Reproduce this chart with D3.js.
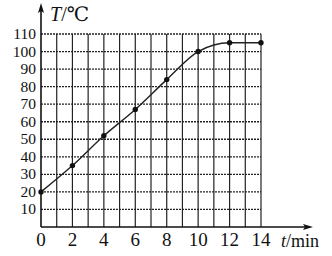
<!DOCTYPE html>
<html lang="zh">
<head>
<meta charset="UTF-8">
<script src="https://d3js.org/d3.v7.min.js"></script>
<style>
  html, body { margin: 0; padding: 0; background: #fff; }
  svg text { font-family: "Liberation Serif", "DejaVu Serif", "Times New Roman", serif; }
</style>
</head>
<body>
<div id="chart"></div>
<script>
// data
var times = [0, 2, 4, 6, 8, 10, 12, 14];
var temps = [20, 35, 52, 67, 84, 100, 105, 105];
var xTicks = [0, 2, 4, 6, 8, 10, 12, 14];
var yTicks = [10, 20, 30, 40, 50, 60, 70, 80, 90, 100, 110];

var svg = d3.select("#chart").append("svg")
  .attr("width", 332)
  .attr("height", 256);

var x = d3.scaleLinear().domain([0, 14]).range([41, 261]);
var y = d3.scaleLinear().domain([0, 110]).range([227, 34]);

// grid: vertical every minute (solid), horizontal every 10 (dotted)
svg.append("g")
  .selectAll("line")
  .data(d3.range(1, 15))
  .enter().append("line")
  .attr("x1", d => x(d)).attr("x2", d => x(d))
  .attr("y1", y(0)).attr("y2", y(110))
  .attr("stroke", "#222").attr("stroke-width", 1.2);

svg.append("g")
  .selectAll("line")
  .data(yTicks)
  .enter().append("line")
  .attr("x1", x(0)).attr("x2", x(14))
  .attr("y1", d => y(d)).attr("y2", d => y(d))
  .attr("stroke", "#222").attr("stroke-width", 1.3)
  .attr("stroke-dasharray", "2,1");

// axes with arrows
svg.append("line")
  .attr("x1", x(0)).attr("x2", x(0))
  .attr("y1", y(0)).attr("y2", 8)
  .attr("stroke", "#111").attr("stroke-width", 1.6);
svg.append("path")
  .attr("d", "M" + x(0) + ",3 L" + (x(0) - 3) + ",13 L" + x(0) + ",11 L" + (x(0) + 3) + ",13 Z")
  .attr("fill", "#111");

svg.append("line")
  .attr("x1", x(0)).attr("x2", 308)
  .attr("y1", y(0)).attr("y2", y(0))
  .attr("stroke", "#111").attr("stroke-width", 1.6);
svg.append("path")
  .attr("d", "M313," + y(0) + " L303," + (y(0) - 3) + " L305," + y(0) + " L303," + (y(0) + 3) + " Z")
  .attr("fill", "#111");

// tick labels (y labels kept small enough not to collide)
svg.append("g")
  .selectAll("text")
  .data(yTicks)
  .enter().append("text")
  .attr("x", 36)
  .attr("y", d => y(d) + 5)
  .attr("text-anchor", "end")
  .attr("fill", "#111")
  .style("font-size", "15.5px")
  .text(d => d);

svg.append("g")
  .selectAll("text")
  .data(xTicks)
  .enter().append("text")
  .attr("x", d => x(d))
  .attr("y", 246)
  .attr("text-anchor", "middle")
  .attr("fill", "#111")
  .style("font-size", "19px")
  .text(d => d);

// axis titles
var yt = svg.append("text").attr("x", 50).attr("y", 21).attr("fill", "#111").style("font-size", "20px");
yt.append("tspan").style("font-style", "italic").text("T");
yt.append("tspan").text("/℃");

var xt = svg.append("text").attr("x", 281).attr("y", 247).attr("fill", "#111").style("font-size", "18px");
xt.append("tspan").style("font-style", "italic").text("t");
xt.append("tspan").text("/min");

// curve and points
var line = d3.line()
  .x((d, i) => x(times[i]))
  .y(d => y(d))
  .curve(d3.curveMonotoneX);

svg.append("path")
  .datum(temps)
  .attr("d", line)
  .attr("fill", "none")
  .attr("stroke", "#222")
  .attr("stroke-width", 1.4);

svg.append("g")
  .selectAll("circle")
  .data(temps)
  .enter().append("circle")
  .attr("cx", (d, i) => x(times[i]))
  .attr("cy", d => y(d))
  .attr("r", 2.7)
  .attr("fill", "#111");
</script>
</body>
</html>
